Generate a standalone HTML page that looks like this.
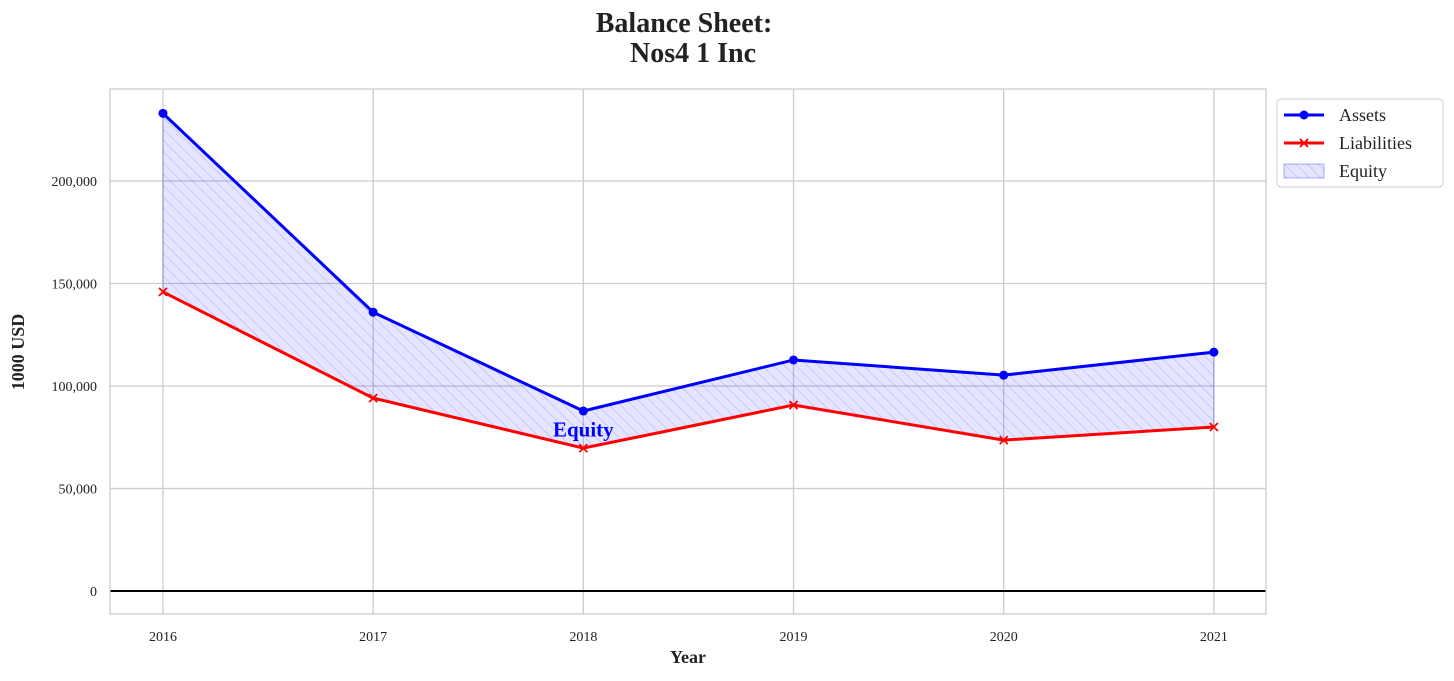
<!DOCTYPE html>
<html><head><meta charset="utf-8"><style>
body{margin:0;background:#fff;font-family:"Liberation Serif",serif;}
svg text{font-family:"Liberation Serif",serif;}
</style></head><body>
<svg id="chart" width="1454" height="676" xmlns="http://www.w3.org/2000/svg">
<defs>
<pattern id="hatch" patternUnits="userSpaceOnUse" width="8" height="8" patternTransform="rotate(-45)">
<rect width="8" height="8" fill="rgba(0,0,255,0.1)"/>
<line x1="0" y1="0" x2="0" y2="8" stroke="rgba(0,0,255,0.25)" stroke-width="1"/>
</pattern>
</defs>
<text x="684" y="32" text-anchor="middle" font-size="28" font-weight="bold" fill="#222">Balance Sheet:</text>
<text x="693" y="62" text-anchor="middle" font-size="28" font-weight="bold" fill="#222">Nos4 1 Inc</text>
<g id="grid"></g>
<g id="marks"></g>
<rect x="110" y="89" width="1156" height="525" fill="none" stroke="#ccc" stroke-width="1.3"/>
<text x="688" y="663" text-anchor="middle" font-size="18" font-weight="bold" fill="#222">Year</text>
<text transform="translate(24,352) rotate(-90)" text-anchor="middle" font-size="18" font-weight="bold" fill="#222">1000 USD</text>
<g>
<rect x="1277" y="99" width="166" height="88" rx="4" fill="#fff" stroke="#ccc"/>
<line x1="1284" y1="115" x2="1324" y2="115" stroke="blue" stroke-width="3"/><circle cx="1304" cy="115" r="4.5" fill="blue"/>
<text x="1339" y="121" font-size="18" fill="#222">Assets</text>
<line x1="1284" y1="143" x2="1324" y2="143" stroke="red" stroke-width="3"/><path d="M1300 139 l8 8 M1308 139 l-8 8" stroke="red" stroke-width="1.8"/>
<text x="1339" y="149" font-size="18" fill="#222">Liabilities</text>
<rect x="1284" y="164" width="40" height="14" fill="url(#hatch)" stroke="rgba(0,0,255,0.3)"/>
<text x="1339" y="177" font-size="18" fill="#222">Equity</text>
</g>
</svg>
<script>
const years=[2016,2017,2018,2019,2020,2021];
const assets=[233000,136000,87800,112700,105300,116500];
const liabilities=[145900,94100,69700,90700,73600,80000];
const yTicks=[0,50000,100000,150000,200000];
const NS="http://www.w3.org/2000/svg";
const L=110,R=1266,T=89,B=614;
const xMin=2015.748,xMax=2021.248,yMin=-11220,yMax=244880;
const xs=v=>L+(v-xMin)/(xMax-xMin)*(R-L);
const ys=v=>B-(v-yMin)/(yMax-yMin)*(B-T);
function mk(tag,attrs,parent){const e=document.createElementNS(NS,tag);for(const k in attrs)e.setAttribute(k,attrs[k]);parent.appendChild(e);return e;}
const grid=document.getElementById('grid'),marks=document.getElementById('marks');
yTicks.forEach(t=>{
 const l=mk('line',{x1:L,x2:R,y1:ys(t),y2:ys(t),stroke:'#ccc','stroke-width':1.3},grid);
 
 
 const tx=mk('text',{x:97,y:ys(t)+5,'text-anchor':'end','font-size':14,fill:'#222'},grid);
 tx.textContent=t.toLocaleString('en-US');
 
 
});
years.forEach(y=>{
 const l=mk('line',{x1:xs(y),x2:xs(y),y1:T,y2:B,stroke:'#ccc','stroke-width':1.3},grid);
 
 
 const tx=mk('text',{x:xs(y),y:641,'text-anchor':'middle','font-size':14,fill:'#222'},grid);
 tx.textContent=y;
 
 
});
const zl=mk('line',{x1:L,x2:R,y1:ys(0),y2:ys(0),stroke:'#000','stroke-width':2},marks);


let d=years.map((y,i)=>(i?'L':'M')+xs(y)+' '+ys(assets[i])).join(' ');
for(let i=years.length-1;i>=0;i--)d+=' L'+xs(years[i])+' '+ys(liabilities[i]);
const area=mk('path',{d:d+' Z',fill:'url(#hatch)',stroke:'rgba(0,0,255,0.25)'},marks);


const la=mk('polyline',{points:years.map((y,i)=>xs(y)+','+ys(liabilities[i])).join(' '),fill:'none',stroke:'red','stroke-width':3},marks);


const aa=mk('polyline',{points:years.map((y,i)=>xs(y)+','+ys(assets[i])).join(' '),fill:'none',stroke:'blue','stroke-width':3},marks);


years.forEach((y,i)=>{
 const c=mk('circle',{cx:xs(y),cy:ys(assets[i]),r:4.5,fill:'blue'},marks);
 
 
 const x=xs(y),yy=ys(liabilities[i]);
 const p=mk('path',{d:`M${x-4} ${yy-4} L${x+4} ${yy+4} M${x+4} ${yy-4} L${x-4} ${yy+4}`,stroke:'red','stroke-width':1.8},marks);
 
 
});
const eq=mk('text',{x:xs(2018),y:ys((assets[2]+liabilities[2])/2)+7,'text-anchor':'middle','font-size':21,'font-weight':'bold',fill:'blue'},marks);
eq.textContent='Equity';


</script>
</body></html>
